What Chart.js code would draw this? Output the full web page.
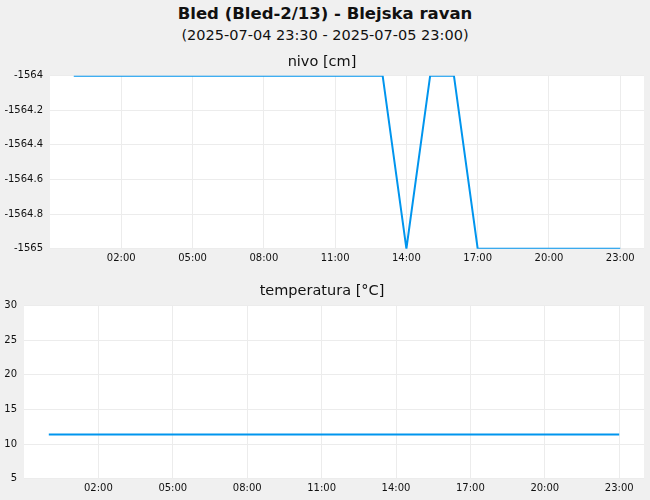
<!DOCTYPE html>
<html>
<head>
<meta charset="utf-8">
<script src="https://cdn.jsdelivr.net/npm/chart.js@4/dist/chart.umd.min.js"></script>
<style>
  body { margin: 0; background: #f0f0f0; font-family: 'DejaVu Sans', sans-serif; }
  #wrap { position: relative; width: 650px; height: 500px; overflow: hidden; }
  #title { position: absolute; left: 0; top: 3px; width: 650px; text-align: center; font-weight: bold; font-size: 16.5px; line-height: 22px; color: #111; }
  #subtitle { position: absolute; left: 0; top: 25px; width: 650px; text-align: center; font-size: 14.5px; line-height: 20px; color: #111; }
  .box { position: absolute; left: 0; width: 650px; }
  #boxNivo { top: 45px; height: 225px; }
  #boxTemp { top: 270px; height: 230px; }
</style>
</head>
<body>
<div id="wrap">
  <div id="title">Bled (Bled-2/13) - Blejska ravan</div>
  <div id="subtitle">(2025-07-04 23:30 - 2025-07-05 23:00)</div>
  <div class="box" id="boxNivo"><canvas id="nivoChart"></canvas></div>
  <div class="box" id="boxTemp"><canvas id="tempChart"></canvas></div>
</div>
<script>
// hours of 2025-07-05
const hours = [0, 1, 2, 3, 4, 5, 6, 7, 8, 9, 10, 11, 12, 13, 14, 15, 16, 17, 18, 19, 20, 21, 22, 23];
const nivo = [-1564, -1564, -1564, -1564, -1564, -1564, -1564, -1564, -1564, -1564, -1564, -1564,
              -1564, -1564, -1565, -1564, -1564, -1565, -1565, -1565, -1565, -1565, -1565, -1565];
const temperatura = [11.4, 11.4, 11.4, 11.4, 11.4, 11.4, 11.4, 11.4, 11.4, 11.4, 11.4, 11.4,
                     11.4, 11.4, 11.4, 11.4, 11.4, 11.4, 11.4, 11.4, 11.4, 11.4, 11.4, 11.4];
const hourTicks = [2, 5, 8, 11, 14, 17, 20, 23];
const nivoTicks = [-1565, -1564.8, -1564.6, -1564.4, -1564.2, -1564];
const tempTicks = [5, 10, 15, 20, 25, 30];

Chart.defaults.font.family = "'DejaVu Sans', sans-serif";
Chart.defaults.color = '#111';

const whiteArea = {
    id: 'whiteArea',
    beforeDraw(chart) {
        const a = chart.chartArea;
        const ctx = chart.ctx;
        ctx.save();
        ctx.fillStyle = '#ffffff';
        ctx.fillRect(a.left, a.top, a.right - a.left, a.bottom - a.top);
        ctx.restore();
    }
};

function hhmm(v) {
    return String(v).padStart(2, '0') + ':00';
}

function makeChart(id, title, values, yTicks, yMin, yMax, yWidth, titlePad) {
    const ctx = document.getElementById(id).getContext('2d');
    return new Chart(ctx, {
        type: 'line',
        data: {
            datasets: [{
                data: hours.map((h, i) => ({x: h, y: values[i]})),
                borderColor: '#0095ee',
                borderWidth: 2,
                pointRadius: 0,
                tension: 0,
                fill: false
            }]
        },
        options: {
            responsive: true,
            maintainAspectRatio: false,
            animation: false,
            layout: { padding: { left: 0, right: 6, top: 0, bottom: 1.3 } },
            scales: {
                x: {
                    type: 'linear',
                    min: -1,
                    max: 24,
                    afterBuildTicks: scale => { scale.ticks = hourTicks.map(v => ({value: v})); },
                    ticks: {
                        padding: 4,
                        maxRotation: 0,
                        font: { size: 10 },
                        callback: v => hhmm(v)
                    },
                    grid: { color: '#ececec', drawTicks: false },
                    border: { display: false }
                },
                y: {
                    min: yMin,
                    max: yMax,
                    afterBuildTicks: scale => { scale.ticks = yTicks.map(v => ({value: v})); },
                    afterFit: scale => { scale.width = yWidth; },
                    ticks: {
                        padding: 7,
                        font: { size: 10 },
                        callback: v => String(Math.round(v * 10) / 10)
                    },
                    grid: { color: '#ececec', drawTicks: false },
                    border: { display: false }
                }
            },
            plugins: {
                legend: { display: false },
                tooltip: { enabled: false },
                title: {
                    display: true,
                    text: title,
                    font: { size: 14.5, weight: 'normal' },
                    padding: titlePad
                }
            }
        },
        plugins: [whiteArea]
    });
}

makeChart('nivoChart', 'nivo [cm]', nivo, nivoTicks, -1565, -1564, 50, {top: 8.3, bottom: 5});
makeChart('tempChart', 'temperatura [°C]', temperatura, tempTicks, 5, 30, 24, {top: 12.3, bottom: 6});
</script>
</body>
</html>
